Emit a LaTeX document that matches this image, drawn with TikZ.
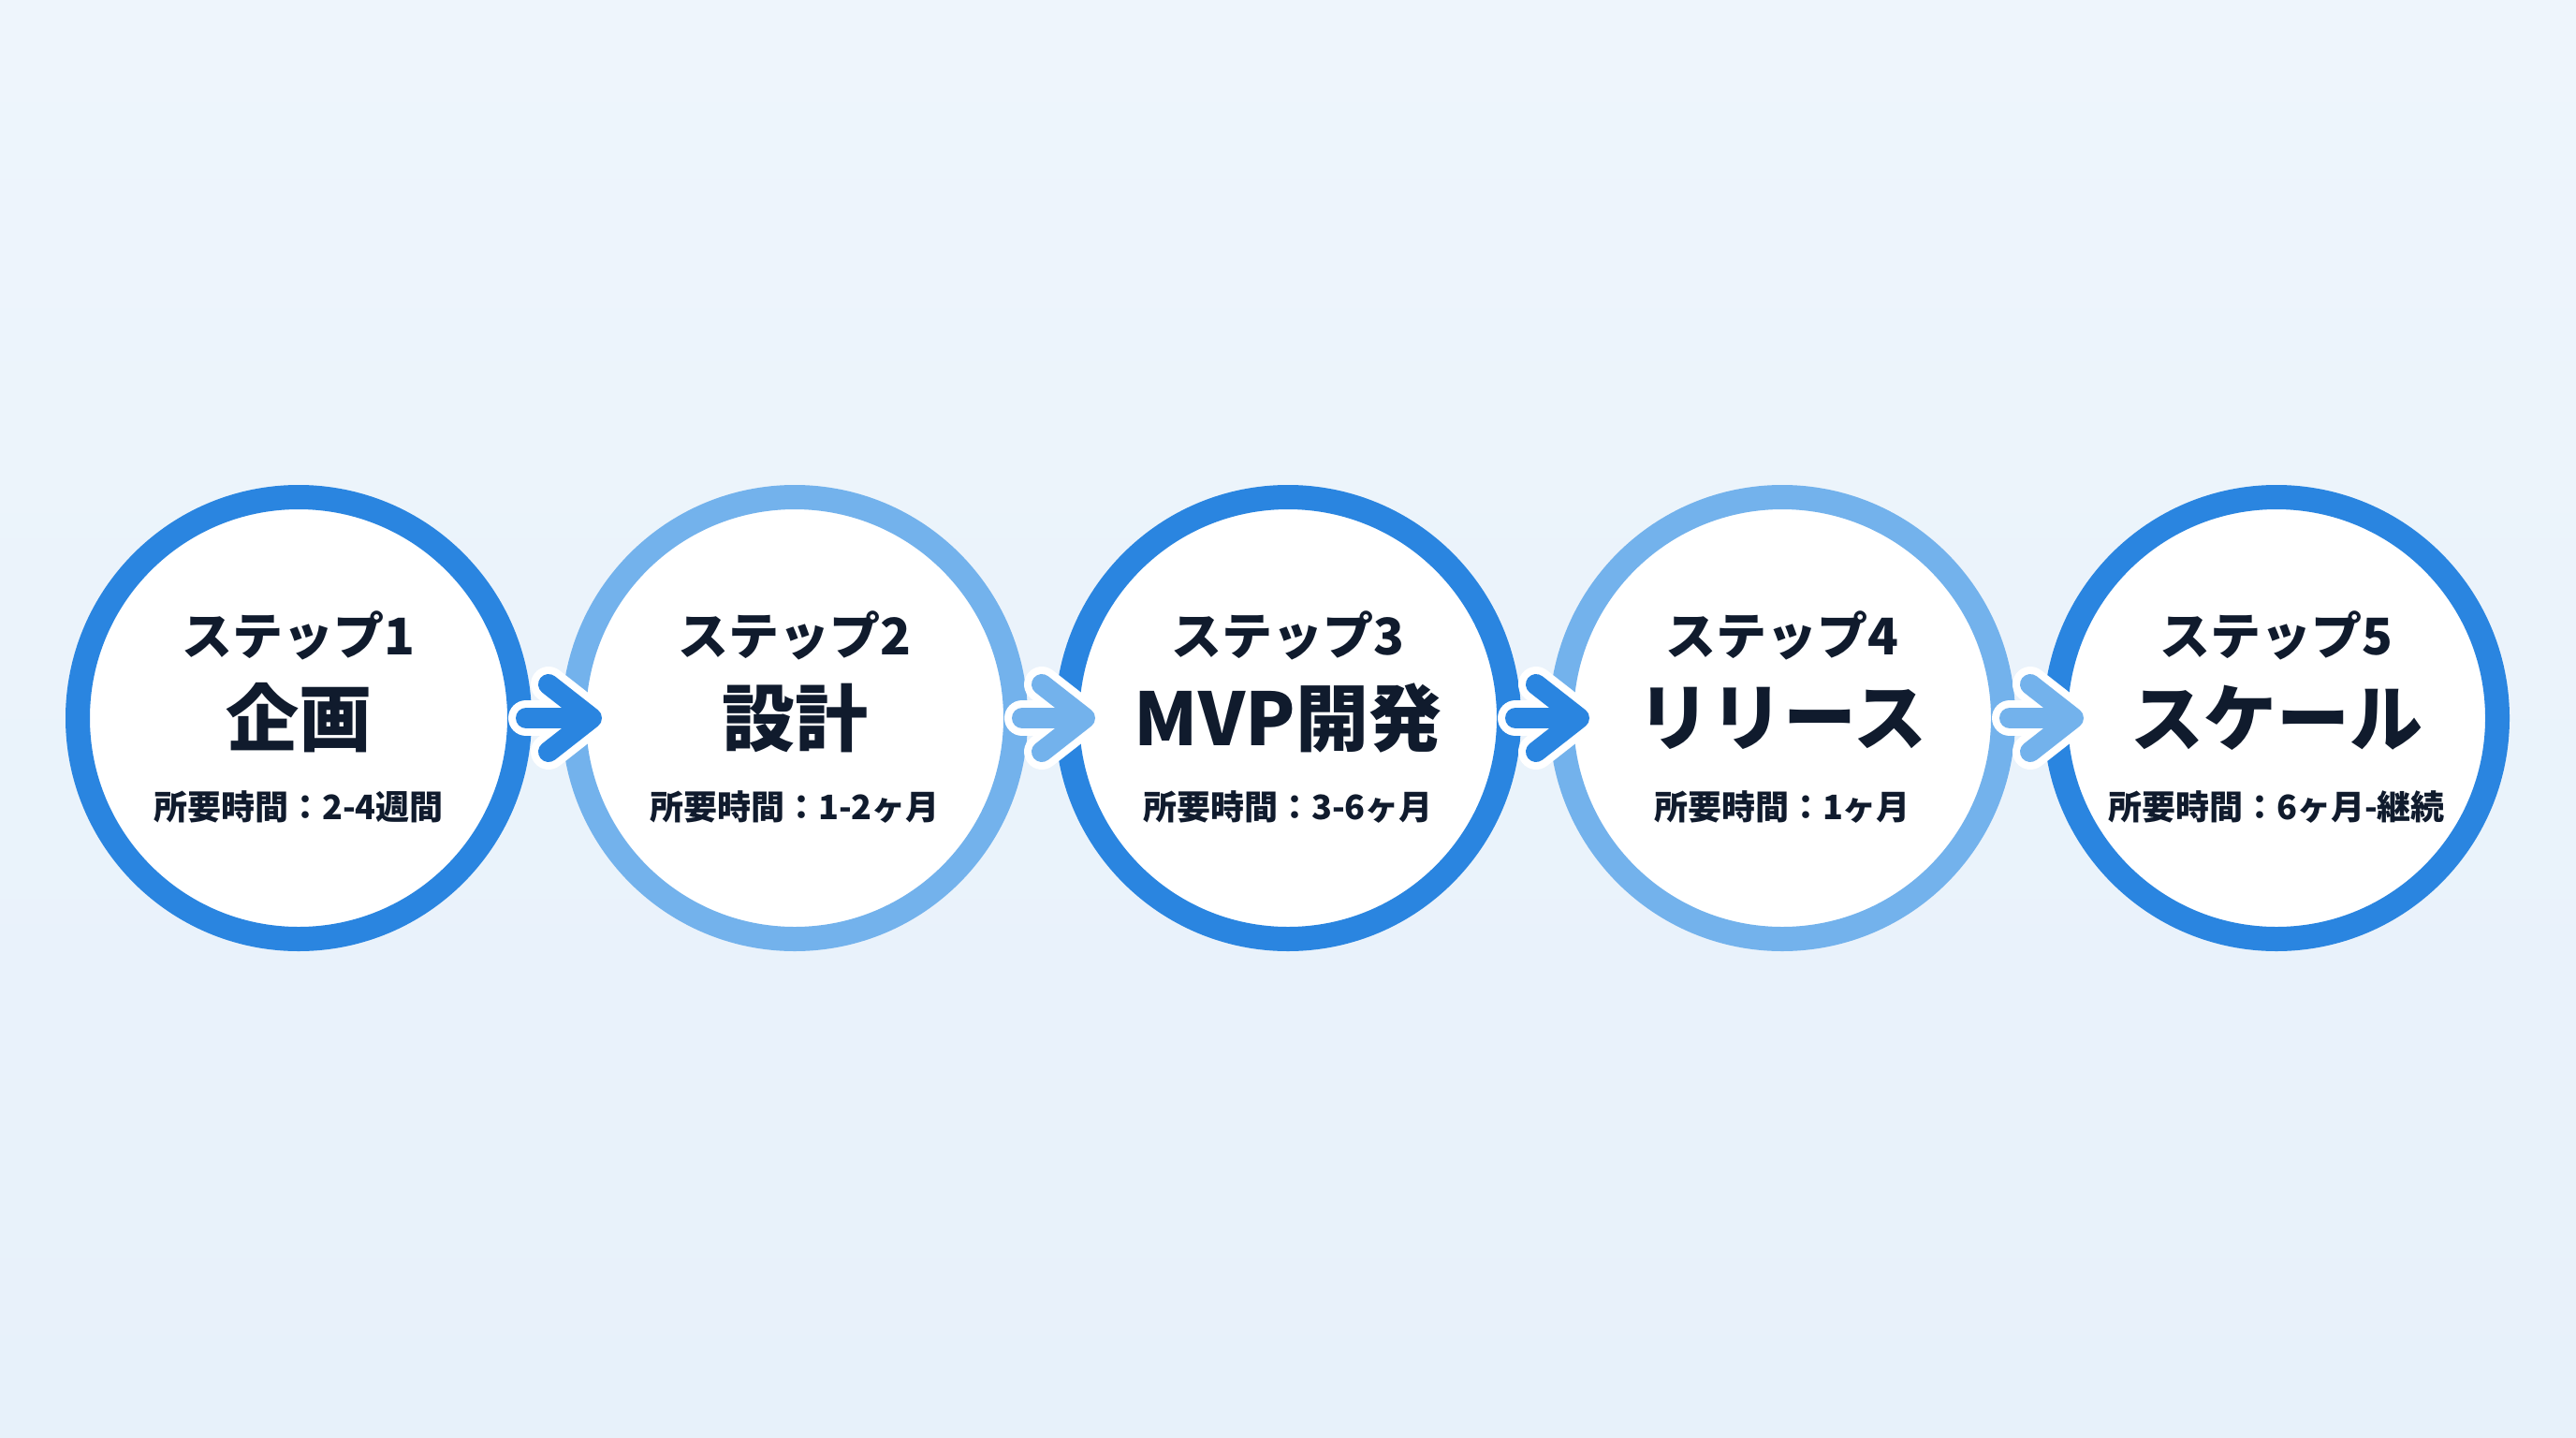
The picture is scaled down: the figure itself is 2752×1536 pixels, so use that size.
\documentclass[tikz,border=0pt]{standalone}
\usepackage{fontspec}
\setmainfont{Noto Sans CJK JP}
\usetikzlibrary{calc}
\definecolor{ringdark}{RGB}{42,133,224}
\definecolor{ringlight}{RGB}{115,178,236}
\definecolor{txt}{RGB}{16,27,45}
\definecolor{bgtop}{RGB}{238,245,252}
\definecolor{bgbot}{RGB}{231,241,250}
\tikzset{
  stepcircle/.style={circle, draw=#1, line width=26pt, fill=white, minimum size=472pt, inner sep=0pt},
  steplabel/.style={text=txt, inner sep=0pt, font=\bfseries\fontsize{54}{60}\selectfont},
  steptitle/.style={text=txt, inner sep=0pt, font=\bfseries\fontsize{78}{86}\selectfont},
  stepdur/.style={text=txt, inner sep=0pt, font=\bfseries\fontsize{36}{42}\selectfont},
  halo/.style={draw=white, line width=38pt, line cap=round, line join=round},
  arrowline/.style={draw=#1, line width=22pt, line cap=round, line join=round}
}
\begin{document}
\begin{tikzpicture}[x=1pt,y=-1pt]
\fill[top color=bgtop, bottom color=bgbot] (0,0) rectangle (2752,1536);
\useasboundingbox (0,0) rectangle (2752,1536);
% circles
\node[stepcircle=ringdark]  (s1) at (319,767) {};
\node[stepcircle=ringlight] (s2) at (849,767) {};
\node[stepcircle=ringdark]  (s3) at (1376,767) {};
\node[stepcircle=ringlight] (s4) at (1904,767) {};
\node[stepcircle=ringdark]  (s5) at (2432,767) {};
% arrows
\foreach \a/\b/\c in {s1/s2/ringdark, s2/s3/ringlight, s3/s4/ringdark, s4/s5/ringlight}{
  \coordinate (tip) at ([xshift=32pt]\b.west);
  \coordinate (up) at ([xshift=-46pt,yshift=36pt]tip);
  \coordinate (dn) at ([xshift=-46pt,yshift=-36pt]tip);
  \coordinate (st) at ([xshift=-6pt]\a.east);
  \draw[halo] (st) -- ([xshift=-8pt]tip);
  \draw[halo] (up) -- (tip) -- (dn);
  \draw[arrowline=\c] (st) -- ([xshift=-8pt]tip);
  \draw[arrowline=\c] (up) -- (tip) -- (dn);
}
% texts
\node[steplabel] (l1) at (319,679) {ステップ1};
\node[steptitle] (t1) at (319,767) {企画};
\node[stepdur]   (d1) at (319,862) {所要時間：2-4週間};
\node[steplabel] (l2) at (849,679) {ステップ2};
\node[steptitle] (t2) at (849,767) {設計};
\node[stepdur]   (d2) at (849,862) {所要時間：1-2ヶ月};
\node[steplabel] (l3) at (1376,679) {ステップ3};
\node[steptitle] (t3) at (1376,767) {MVP開発};
\node[stepdur]   (d3) at (1376,862) {所要時間：3-6ヶ月};
\node[steplabel] (l4) at (1904,679) {ステップ4};
\node[steptitle] (t4) at (1904,767) {リリース};
\node[stepdur]   (d4) at (1904,862) {所要時間：1ヶ月};
\node[steplabel] (l5) at (2432,679) {ステップ5};
\node[steptitle] (t5) at (2432,767) {スケール};
\node[stepdur]   (d5) at (2432,862) {所要時間：6ヶ月-継続};
\end{tikzpicture}
\end{document}
